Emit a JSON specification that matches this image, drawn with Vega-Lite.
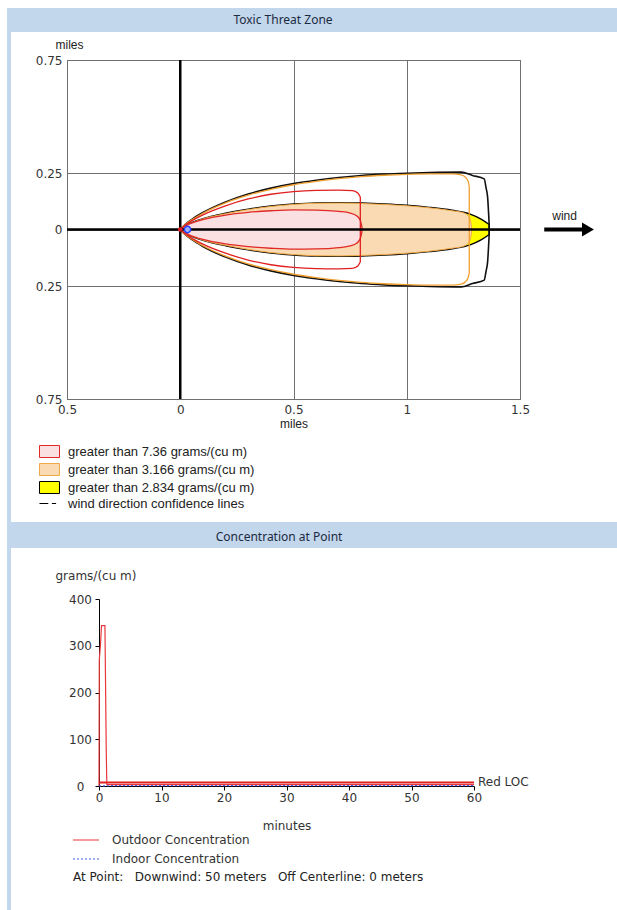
{
  "$schema": "https://vega.github.io/schema/vega-lite/v6.json",
  "background": "white",
  "padding": {"left": 7, "top": 8, "right": 0, "bottom": 0},
  "config": {"view": {"stroke": null}, "font": "DejaVu Sans"},
  "datasets": {
    "zones": [
      {"z":"y","x":0,"hi":0,"lo":0},{"z":"y","x":0.02,"hi":0.015,"lo":-0.015},{"z":"y","x":0.05,"hi":0.03,"lo":-0.03},{"z":"y","x":0.1,"hi":0.048,"lo":-0.048},{"z":"y","x":0.2,"hi":0.072,"lo":-0.072},{"z":"y","x":0.3,"hi":0.09,"lo":-0.09},{"z":"y","x":0.4,"hi":0.104,"lo":-0.104},{"z":"y","x":0.5,"hi":0.113,"lo":-0.113},{"z":"y","x":0.6,"hi":0.118,"lo":-0.118},{"z":"y","x":0.7,"hi":0.119,"lo":-0.119},{"z":"y","x":0.8,"hi":0.117,"lo":-0.117},{"z":"y","x":0.9,"hi":0.113,"lo":-0.113},{"z":"y","x":1.0,"hi":0.107,"lo":-0.107},{"z":"y","x":1.1,"hi":0.098,"lo":-0.098},{"z":"y","x":1.2,"hi":0.085,"lo":-0.085},{"z":"y","x":1.28,"hi":0.068,"lo":-0.068},{"z":"y","x":1.33,"hi":0.045,"lo":-0.045},{"z":"y","x":1.364,"hi":0.022,"lo":-0.022},
      {"z":"o","x":0,"hi":0,"lo":0},{"z":"o","x":0.02,"hi":0.014,"lo":-0.014},{"z":"o","x":0.05,"hi":0.029,"lo":-0.029},{"z":"o","x":0.1,"hi":0.047,"lo":-0.047},{"z":"o","x":0.2,"hi":0.07,"lo":-0.07},{"z":"o","x":0.3,"hi":0.088,"lo":-0.088},{"z":"o","x":0.4,"hi":0.102,"lo":-0.102},{"z":"o","x":0.5,"hi":0.111,"lo":-0.111},{"z":"o","x":0.6,"hi":0.116,"lo":-0.116},{"z":"o","x":0.7,"hi":0.117,"lo":-0.117},{"z":"o","x":0.8,"hi":0.115,"lo":-0.115},{"z":"o","x":0.9,"hi":0.111,"lo":-0.111},{"z":"o","x":1.0,"hi":0.105,"lo":-0.105},{"z":"o","x":1.1,"hi":0.096,"lo":-0.096},{"z":"o","x":1.2,"hi":0.083,"lo":-0.083},{"z":"o","x":1.25,"hi":0.074,"lo":-0.074},{"z":"o","x":1.27,"hi":0.062,"lo":-0.062},{"z":"o","x":1.28,"hi":0.045,"lo":-0.045},{"z":"o","x":1.286,"hi":0.015,"lo":-0.015},
      {"z":"r","x":0,"hi":0,"lo":0},{"z":"r","x":0.02,"hi":0.014,"lo":-0.014},{"z":"r","x":0.05,"hi":0.028,"lo":-0.028},{"z":"r","x":0.1,"hi":0.044,"lo":-0.044},{"z":"r","x":0.2,"hi":0.064,"lo":-0.064},{"z":"r","x":0.3,"hi":0.076,"lo":-0.076},{"z":"r","x":0.4,"hi":0.083,"lo":-0.083},{"z":"r","x":0.5,"hi":0.087,"lo":-0.087},{"z":"r","x":0.6,"hi":0.086,"lo":-0.086},{"z":"r","x":0.7,"hi":0.08,"lo":-0.08},{"z":"r","x":0.75,"hi":0.073,"lo":-0.073},{"z":"r","x":0.78,"hi":0.06,"lo":-0.06},{"z":"r","x":0.795,"hi":0.04,"lo":-0.04},{"z":"r","x":0.802,"hi":0.012,"lo":-0.012}
    ],
    "conf": [
      {"c":"k","x":0,"hi":0,"lo":0},{"c":"k","x":0.02,"hi":0.021,"lo":-0.021},{"c":"k","x":0.05,"hi":0.044,"lo":-0.044},{"c":"k","x":0.1,"hi":0.075,"lo":-0.075},{"c":"k","x":0.2,"hi":0.122,"lo":-0.122},{"c":"k","x":0.3,"hi":0.157,"lo":-0.157},{"c":"k","x":0.4,"hi":0.183,"lo":-0.183},{"c":"k","x":0.5,"hi":0.203,"lo":-0.203},{"c":"k","x":0.6,"hi":0.218,"lo":-0.218},{"c":"k","x":0.7,"hi":0.23,"lo":-0.23},{"c":"k","x":0.8,"hi":0.239,"lo":-0.239},{"c":"k","x":0.9,"hi":0.245,"lo":-0.245},{"c":"k","x":1.0,"hi":0.249,"lo":-0.249},{"c":"k","x":1.1,"hi":0.252,"lo":-0.252},{"c":"k","x":1.24,"hi":0.254,"lo":-0.254},{"c":"k","x":1.29,"hi":0.239,"lo":-0.239},{"c":"k","x":1.342,"hi":0.224,"lo":-0.224},{"c":"k","x":1.35,"hi":0.185,"lo":-0.185},{"c":"k","x":1.357,"hi":0.143,"lo":-0.143},{"c":"k","x":1.364,"hi":0.02,"lo":-0.02},
      {"c":"o","x":0,"hi":0,"lo":0},{"c":"o","x":0.02,"hi":0.02,"lo":-0.02},{"c":"o","x":0.05,"hi":0.042,"lo":-0.042},{"c":"o","x":0.1,"hi":0.072,"lo":-0.072},{"c":"o","x":0.2,"hi":0.118,"lo":-0.118},{"c":"o","x":0.3,"hi":0.152,"lo":-0.152},{"c":"o","x":0.4,"hi":0.178,"lo":-0.178},{"c":"o","x":0.5,"hi":0.198,"lo":-0.198},{"c":"o","x":0.6,"hi":0.213,"lo":-0.213},{"c":"o","x":0.7,"hi":0.225,"lo":-0.225},{"c":"o","x":0.8,"hi":0.234,"lo":-0.234},{"c":"o","x":0.9,"hi":0.24,"lo":-0.24},{"c":"o","x":1.0,"hi":0.244,"lo":-0.244},{"c":"o","x":1.1,"hi":0.246,"lo":-0.246},{"c":"o","x":1.2,"hi":0.246,"lo":-0.246},{"c":"o","x":1.24,"hi":0.242,"lo":-0.242},{"c":"o","x":1.26,"hi":0.23,"lo":-0.23},{"c":"o","x":1.272,"hi":0.21,"lo":-0.21},{"c":"o","x":1.276,"hi":0.19,"lo":-0.19},
      {"c":"r","x":0,"hi":0,"lo":0},{"c":"r","x":0.02,"hi":0.018,"lo":-0.018},{"c":"r","x":0.05,"hi":0.038,"lo":-0.038},{"c":"r","x":0.1,"hi":0.065,"lo":-0.065},{"c":"r","x":0.2,"hi":0.105,"lo":-0.105},{"c":"r","x":0.3,"hi":0.135,"lo":-0.135},{"c":"r","x":0.4,"hi":0.156,"lo":-0.156},{"c":"r","x":0.5,"hi":0.168,"lo":-0.168},{"c":"r","x":0.6,"hi":0.173,"lo":-0.173},{"c":"r","x":0.7,"hi":0.174,"lo":-0.174},{"c":"r","x":0.76,"hi":0.172,"lo":-0.172},{"c":"r","x":0.785,"hi":0.16,"lo":-0.16},{"c":"r","x":0.795,"hi":0.143,"lo":-0.143}
    ],
    "conc": [
      {"s":"Outdoor Concentration","t":0,"c":0},{"s":"Outdoor Concentration","t":0.05,"c":270},{"s":"Outdoor Concentration","t":0.25,"c":305},{"s":"Outdoor Concentration","t":0.4,"c":343},{"s":"Outdoor Concentration","t":0.95,"c":343},{"s":"Outdoor Concentration","t":1.02,"c":255},{"s":"Outdoor Concentration","t":1.15,"c":85},{"s":"Outdoor Concentration","t":1.25,"c":3},{"s":"Outdoor Concentration","t":60,"c":3},
      {"s":"Indoor Concentration","t":0,"c":0},{"s":"Indoor Concentration","t":1,"c":0.4},{"s":"Indoor Concentration","t":2,"c":0.6},{"s":"Indoor Concentration","t":60,"c":0.6}
    ]
  },
  "spacing": 0,
  "resolve": {"scale": {"fill": "independent", "stroke": "independent", "strokeDash": "independent"}, "legend": {"fill": "independent", "stroke": "independent", "strokeDash": "independent"}},
  "hconcat": [
    {"width": 4, "height": 902, "view": {"fill": "#c2d6ec", "stroke": null}, "data": {"values": []}, "mark": "point", "encoding": {}},
    {
      "spacing": 10,
      "resolve": {"scale": {"fill": "independent", "stroke": "independent", "strokeDash": "independent"}, "legend": {"fill": "independent", "stroke": "independent", "strokeDash": "independent"}},
      "vconcat": [
        {
          "spacing": 5,
          "resolve": {"scale": {"fill": "independent", "stroke": "independent", "strokeDash": "independent"}, "legend": {"fill": "independent", "stroke": "independent", "strokeDash": "independent"}},
          "vconcat": [
            {
              "width": 606, "height": 24,
              "view": {"fill": "#c2d6ec", "stroke": null},
              "data": {"values": [{"t": "Toxic Threat Zone"}]},
              "mark": {"type": "text", "font": "Noto Sans", "fontSize": 12, "color": "#1b2b3f", "dx": -31},
              "encoding": {"text": {"field": "t", "type": "nominal"}}
            },
            {
              "spacing": 0,
              "resolve": {"scale": {"fill": "independent", "stroke": "independent", "strokeDash": "independent"}, "legend": {"fill": "independent", "stroke": "independent", "strokeDash": "independent"}},
              "hconcat": [
                {"width": 23, "height": 1, "data": {"values": []}, "mark": "point", "encoding": {}},
                {
                  "width": 453, "height": 339,
                  "view": {"stroke": "#404040", "strokeWidth": 1},
                  "layer": [
                    {
                      "data": {"name": "zones"},
                      "encoding": {
                        "x": {"field": "x", "type": "quantitative", "title": "miles",
                          "scale": {"domain": [-0.5, 1.5], "nice": false, "zero": false},
                          "axis": {"values": [-0.5, 0, 0.5, 1, 1.5], "labelExpr": "'' + abs(datum.value)", "grid": true, "gridColor": "#707070", "gridOpacity": 1, "ticks": false, "domain": false, "labelFont": "DejaVu Sans", "labelFontSize": 12, "labelColor": "#333333", "labelPadding": 5, "labelFlush": false, "titleFont": "Liberation Sans", "titleFontSize": 12, "titleFontWeight": "normal", "titleColor": "#222222", "titlePadding": 3}},
                        "y": {"field": "hi", "type": "quantitative", "title": "miles",
                          "scale": {"domain": [-0.75, 0.75], "nice": false, "zero": false},
                          "axis": {"values": [-0.75, -0.25, 0, 0.25, 0.75], "labelExpr": "'' + abs(datum.value)", "grid": true, "gridColor": "#707070", "gridOpacity": 1, "ticks": false, "domain": false, "labelFont": "DejaVu Sans", "labelFontSize": 12, "labelColor": "#333333", "labelPadding": 5, "labelFlush": false, "titleFont": "Liberation Sans", "titleFontSize": 12, "titleFontWeight": "normal", "titleColor": "#222222", "titleAngle": 0, "titleAlign": "center", "titleBaseline": "middle", "titleX": 2, "titleY": -16}},
                        "y2": {"field": "lo"},
                        "fill": {"field": "z", "type": "nominal",
                          "scale": {"domain": ["r", "o", "y", "w"], "range": ["#fae0e0", "#f9dab2", "#ffff00", "rgba(255,255,255,0)"]},
                          "legend": {"title": null, "orient": "none", "legendX": -24, "legendY": 385, "symbolSize": 144, "symbolStrokeWidth": 1, "labelFont": "Liberation Sans", "labelFontSize": 13, "labelColor": "#222222", "labelLimit": 400, "rowPadding": 1, "labelOffset": 12,
                            "labelExpr": "datum.value == 'r' ? 'greater than 7.36 grams/(cu m)' : datum.value == 'o' ? 'greater than 3.166 grams/(cu m)' : datum.value == 'y' ? 'greater than 2.834 grams/(cu m)' : 'wind direction confidence lines'",
                            "encode": {"symbols": {"update": {"shape": {"signal": "datum.value == 'w' ? 'M-1.667,0H-0.2M0.4,0H1.1' : 'M-1.667,-1H1.667V1H-1.667Z'"}}}}}},
                        "stroke": {"field": "z", "type": "nominal",
                          "scale": {"domain": ["r", "o", "y", "w"], "range": ["#e02828", "#f0a848", "#000000", "#000000"]},
                          "legend": {"title": null, "orient": "none", "legendX": -24, "legendY": 385, "symbolSize": 144, "symbolStrokeWidth": 1, "labelFont": "Liberation Sans", "labelFontSize": 13, "labelColor": "#222222", "labelLimit": 400, "rowPadding": 1, "labelOffset": 12,
                            "labelExpr": "datum.value == 'r' ? 'greater than 7.36 grams/(cu m)' : datum.value == 'o' ? 'greater than 3.166 grams/(cu m)' : datum.value == 'y' ? 'greater than 2.834 grams/(cu m)' : 'wind direction confidence lines'",
                            "encode": {"symbols": {"update": {"shape": {"signal": "datum.value == 'w' ? 'M-1.667,0H-0.2M0.4,0H1.1' : 'M-1.667,-1H1.667V1H-1.667Z'"}}}}}}
                      },
                      "layer": [
                        {"transform": [{"filter": "datum.z == 'y'"}], "mark": {"type": "area", "interpolate": "monotone", "strokeWidth": 1.4}},
                        {"transform": [{"filter": "datum.z == 'o'"}], "mark": {"type": "area", "interpolate": "monotone", "strokeWidth": 1}},
                        {"transform": [{"filter": "datum.z == 'r'"}], "mark": {"type": "area", "interpolate": "monotone", "strokeWidth": 1.3}}
                      ]
                    },
                    {
                      "data": {"name": "conf"},
                      "encoding": {
                        "x": {"field": "x", "type": "quantitative", "title": "miles"},
                        "y": {"field": "hi", "type": "quantitative", "title": "miles"},
                        "y2": {"field": "lo"}
                      },
                      "layer": [
                        {"transform": [{"filter": "datum.c == 'k'"}], "mark": {"type": "area", "interpolate": "monotone", "fillOpacity": 0, "stroke": "#111111", "strokeWidth": 1.6}},
                        {"transform": [{"filter": "datum.c == 'o'"}], "mark": {"type": "area", "interpolate": "monotone", "fillOpacity": 0, "stroke": "#f0a030", "strokeWidth": 1.3}},
                        {"transform": [{"filter": "datum.c == 'r'"}], "mark": {"type": "area", "interpolate": "monotone", "fillOpacity": 0, "stroke": "#e02020", "strokeWidth": 1.3}}
                      ]
                    },
                    {
                      "data": {"values": [{"v": 0}]},
                      "layer": [
                        {"mark": {"type": "rule", "color": "#000000", "strokeWidth": 2.5}, "encoding": {"x": {"field": "v", "type": "quantitative", "title": "miles"}}},
                        {"mark": {"type": "rule", "color": "#000000", "strokeWidth": 2.5}, "encoding": {"y": {"field": "v", "type": "quantitative", "title": "miles"}}}
                      ]
                    },
                    {
                      "data": {"values": [{"x": 0, "y": 0}]},
                      "mark": {"type": "point", "filled": true, "color": "#e02020", "size": 22, "opacity": 1},
                      "encoding": {"x": {"field": "x", "type": "quantitative", "title": "miles"}, "y": {"field": "y", "type": "quantitative", "title": "miles"}}
                    },
                    {
                      "data": {"values": [{"x": 0.032, "y": 0}]},
                      "mark": {"type": "point", "filled": true, "fill": "#9fb0ff", "stroke": "#2040ff", "strokeWidth": 1.5, "size": 40, "opacity": 1},
                      "encoding": {"x": {"field": "x", "type": "quantitative", "title": "miles"}, "y": {"field": "y", "type": "quantitative", "title": "miles"}}
                    },
                    {
                      "data": {"values": [{"x": 1.607, "x2": 1.8, "y": 0, "label": "wind"}]},
                      "layer": [
                        {"mark": {"type": "rule", "color": "#000000", "strokeWidth": 4}, "encoding": {"x": {"field": "x", "type": "quantitative", "title": "miles"}, "x2": {"field": "x2"}, "y": {"field": "y", "type": "quantitative", "title": "miles"}}},
                        {"mark": {"type": "point", "shape": "triangle-right", "filled": true, "color": "#000000", "size": 190, "opacity": 1}, "encoding": {"x": {"field": "x2", "type": "quantitative", "title": "miles"}, "y": {"field": "y", "type": "quantitative", "title": "miles"}}},
                        {"mark": {"type": "text", "align": "left", "dx": 8, "dy": -14, "font": "Liberation Sans", "fontSize": 12, "color": "#222222"}, "encoding": {"x": {"field": "x", "type": "quantitative", "title": "miles"}, "y": {"field": "y", "type": "quantitative", "title": "miles"}, "text": {"field": "label"}}}
                      ]
                    }
                  ]
                }
              ]
            }
          ]
        },
        {
          "spacing": 21,
          "resolve": {"scale": {"fill": "independent", "stroke": "independent", "strokeDash": "independent"}, "legend": {"fill": "independent", "stroke": "independent", "strokeDash": "independent"}},
          "vconcat": [
            {
              "width": 606, "height": 26,
              "view": {"fill": "#c2d6ec", "stroke": null},
              "data": {"values": [{"t": "Concentration at Point"}]},
              "mark": {"type": "text", "font": "Noto Sans", "fontSize": 12, "color": "#1b2b3f", "dx": -35, "dy": 2},
              "encoding": {"text": {"field": "t", "type": "nominal"}}
            },
            {
              "spacing": 0,
              "resolve": {"scale": {"fill": "independent", "stroke": "independent", "strokeDash": "independent"}, "legend": {"fill": "independent", "stroke": "independent", "strokeDash": "independent"}},
              "hconcat": [
                {"width": 44, "height": 1, "data": {"values": []}, "mark": "point", "encoding": {}},
                {
                  "width": 375, "height": 187,
                  "layer": [
                    {
                      "data": {"name": "conc"},
                      "mark": {"type": "line", "strokeWidth": 1.2},
                      "encoding": {
                        "x": {"field": "t", "type": "quantitative", "title": "minutes",
                          "scale": {"domain": [0, 60], "nice": false},
                          "axis": {"values": [0, 5, 10, 15, 20, 25, 30, 35, 40, 45, 50, 55, 60], "labelExpr": "datum.value % 10 == 0 ? datum.label : ''", "grid": false, "tickSize": 4, "tickColor": "#000000", "domainColor": "#000000", "labelFont": "DejaVu Sans", "labelFontSize": 12, "labelColor": "#333333", "labelPadding": 2, "labelFlush": false, "titleFont": "DejaVu Sans", "titleFontSize": 12, "titleFontWeight": "normal", "titleColor": "#333333", "titlePadding": 17}},
                        "y": {"field": "c", "type": "quantitative", "title": "grams/(cu m)",
                          "scale": {"domain": [0, 400], "nice": false},
                          "axis": {"values": [0, 100, 200, 300, 400], "grid": false, "tickSize": 4, "tickColor": "#000000", "domainColor": "#000000", "labelFont": "DejaVu Sans", "labelFontSize": 12, "labelColor": "#333333", "labelAlign": "center", "labelPadding": 15, "labelFlush": false, "titleFont": "DejaVu Sans", "titleFontSize": 12, "titleFontWeight": "normal", "titleColor": "#333333", "titleAngle": 0, "titleAlign": "left", "titleBaseline": "middle", "titleX": -44, "titleY": -24}},
                        "stroke": {"field": "s", "type": "nominal",
                          "scale": {"domain": ["Outdoor Concentration", "Indoor Concentration"], "range": ["#e8383d", "#4a5ee8"]},
                          "legend": {"title": "At Point:\u00a0\u00a0\u00a0Downwind: 50 meters\u00a0\u00a0\u00a0Off Centerline: 0 meters", "titleOrient": "bottom", "titleAnchor": "start", "titleFont": "DejaVu Sans", "titleFontSize": 12, "titleFontWeight": "normal", "titleColor": "#222222", "titlePadding": 7, "titleLimit": 500, "orient": "none", "legendX": -26, "legendY": 235, "symbolSize": 36, "symbolType": "M-2,0H6.67", "symbolStrokeWidth": 1.2, "labelFont": "DejaVu Sans", "labelFontSize": 12, "labelColor": "#333333", "labelOffset": 27, "rowPadding": 7}},
                        "strokeDash": {"field": "s", "type": "nominal",
                          "scale": {"domain": ["Outdoor Concentration", "Indoor Concentration"], "range": [[1, 0], [2, 2]]},
                          "legend": {"title": "At Point:\u00a0\u00a0\u00a0Downwind: 50 meters\u00a0\u00a0\u00a0Off Centerline: 0 meters", "titleOrient": "bottom", "titleAnchor": "start", "titleFont": "DejaVu Sans", "titleFontSize": 12, "titleFontWeight": "normal", "titleColor": "#222222", "titlePadding": 7, "titleLimit": 500, "orient": "none", "legendX": -26, "legendY": 235, "symbolSize": 36, "symbolType": "M-2,0H6.67", "symbolStrokeWidth": 1.2, "labelFont": "DejaVu Sans", "labelFontSize": 12, "labelColor": "#333333", "labelOffset": 27, "rowPadding": 7}}
                      }
                    },
                    {
                      "data": {"values": [{"loc": "Red LOC", "v": 7.36, "t": 60}]},
                      "layer": [
                        {"mark": {"type": "rule", "color": "#e02020", "strokeWidth": 2}, "encoding": {"y": {"field": "v", "type": "quantitative", "title": "grams/(cu m)"}}},
                        {"mark": {"type": "text", "align": "left", "dx": 4, "dy": -1, "font": "DejaVu Sans", "fontSize": 12, "color": "#333333"}, "encoding": {"x": {"field": "t", "type": "quantitative", "title": "minutes"}, "y": {"field": "v", "type": "quantitative", "title": "grams/(cu m)"}, "text": {"field": "loc"}}}
                      ]
                    }
                  ]
                }
              ]
            }
          ]
        }
      ]
    }
  ]
}
